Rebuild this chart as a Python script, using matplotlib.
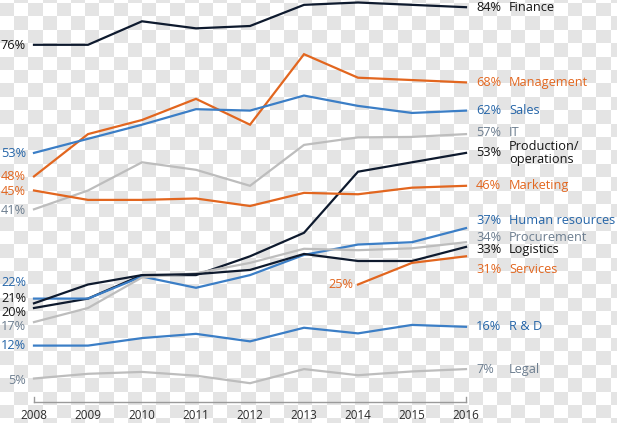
import numpy as np
import matplotlib
matplotlib.use("Agg")
import matplotlib.pyplot as plt
from matplotlib.patches import Rectangle
from matplotlib.collections import PatchCollection

plt.rcParams['font.family'] = ['Open Sans', 'DejaVu Sans']

years = [2008, 2009, 2010, 2011, 2012, 2013, 2014, 2015, 2016]
finance = [76, 76, 81, 79.5, 80, 84.5, 85, 84.5, 84]
management = [48, 57, 60, 64.5, 59, 74, 69, 68.5, 68]
sales = [53, 56, 59, 62.3, 62, 65.2, 63, 61.5, 62]
it = [41, 45, 51, 49.4, 46, 54.7, 56.3, 56.4, 57]
production = [20, 22, 27, 27, 31, 36, 49, 51, 53]
marketing = [45, 43, 43, 43.3, 41.7, 44.5, 44.2, 45.6, 46]
hr = [22, 22, 26.7, 24.3, 27, 31.3, 33.5, 34, 37]
procurement = [17, 20, 26.5, 27.4, 29.6, 32.6, 32.3, 32.7, 34]
logistics = [21, 25, 27, 27.2, 28.1, 31.5, 30, 30, 33]
services = [np.nan, np.nan, np.nan, np.nan, np.nan, np.nan, 25, 29.6, 31]
rnd = [12, 12, 13.6, 14.5, 12.9, 15.8, 14.6, 16.4, 16]
legal = [5, 6, 6.4, 5.6, 4, 7, 5.7, 6.5, 7]

NAVY = '#0e1a2e'
ORANGE = '#e2661f'
BLUE = '#3b7ec6'
GRAY = '#bdbdbd'
T_BLACK = '#151515'
T_BLUE = '#2565a8'
T_GRAY = '#6d7e90'
T_ORANGE = '#e2661f'

# name, values, line colour, text colour, left label offset px (down +), right label offset px (down +)
series = [
    ("Finance", finance, NAVY, T_BLACK, 1, 0),
    ("Management", management, ORANGE, T_ORANGE, 0, 0),
    ("Sales", sales, BLUE, T_BLUE, 1, 0),
    ("IT", it, GRAY, T_GRAY, 1, -2),
    ("Production/\noperations", production, NAVY, T_BLACK, 4.5, 0),
    ("Marketing", marketing, ORANGE, T_ORANGE, 1, 0),
    ("Human resources", hr, BLUE, T_BLUE, -16, -7.5),
    ("Procurement", procurement, GRAY, T_GRAY, 4.5, -5),
    ("Logistics", logistics, NAVY, T_BLACK, -5, 3),
    ("Services", services, ORANGE, T_ORANGE, 0, 13),
    ("R & D", rnd, BLUE, T_BLUE, 0, 0),
    ("Legal", legal, GRAY, T_GRAY, 1.5, 0),
]

W, H = 617, 423
fig = plt.figure(figsize=(W / 100, H / 100), dpi=100, facecolor='white')

# checkerboard background drawn in a full-figure axes (pixel coordinates)
bg = fig.add_axes([0, 0, 1, 1])
bg.set_xlim(0, W)
bg.set_ylim(H, 0)
bg.axis('off')
cw, ch, y_phase = 14.2, 13.4, 56.7
rects = []
for ri in range(-5, 30):
    ytop = y_phase + ri * ch
    if ytop > H or ytop + ch < 0:
        continue
    for ci in range(0, 45):
        if (ri + ci) % 2 == 0 and ci * cw <= W:
            rects.append(Rectangle((ci * cw, ytop), cw, ch))
bg.add_collection(PatchCollection(rects, facecolor='#e4e4e4', edgecolor='none'))

y0_px, scale = 402, 4.70
ymax = 85
left_px, right_px = 34, 466
ax = fig.add_axes([left_px / W, (H - y0_px) / H, (right_px - left_px) / W, ymax * scale / H])
ax.patch.set_visible(False)
ax.set_xlim(2008, 2016)
ax.set_ylim(0, ymax)
for s in ['top', 'right', 'left']:
    ax.spines[s].set_visible(False)
ax.spines['bottom'].set_color('#9a9a9a')
ax.spines['bottom'].set_linewidth(1.0)
ax.set_yticks([])
ax.set_xticks(years)
ax.set_xticklabels([str(y) for y in years], fontsize=8.4, color='#2b2b2b')
ax.tick_params(axis='x', length=0, pad=5)
for xe in (2008, 2016):
    ax.plot([xe, xe], [0, 5 / scale], color='#9a9a9a', lw=1.0, clip_on=False)

FS = 9.2
for name, vals, lc, tc, loff, roff in series:
    ax.plot(years, vals, color=lc, lw=1.6, clip_on=False, solid_joinstyle='miter')
    v = np.array(vals, dtype=float)
    first = int(np.where(~np.isnan(v))[0][0])
    if first == 0:
        ax.annotate(f"{v[0]:.0f}%", xy=(years[0], v[0]), xytext=(-8, -loff),
                    textcoords='offset pixels', ha='right', va='center',
                    fontsize=FS, color=tc, annotation_clip=False)
    else:
        ax.annotate(f"{v[first]:.0f}%", xy=(years[first], v[first]), xytext=(-5, 0),
                    textcoords='offset pixels', ha='right', va='center',
                    fontsize=FS, color=tc, annotation_clip=False)
    ax.annotate(f"{v[-1]:.0f}%", xy=(years[-1], v[-1]), xytext=(10, -roff),
                textcoords='offset pixels', ha='left', va='center',
                fontsize=FS, color=tc, annotation_clip=False)
    ax.annotate(name, xy=(years[-1], v[-1]), xytext=(43, -roff),
                textcoords='offset pixels', ha='left', va='center',
                fontsize=FS, color=tc, annotation_clip=False, linespacing=0.95)

fig.savefig("out.png", dpi=100, facecolor='white')
